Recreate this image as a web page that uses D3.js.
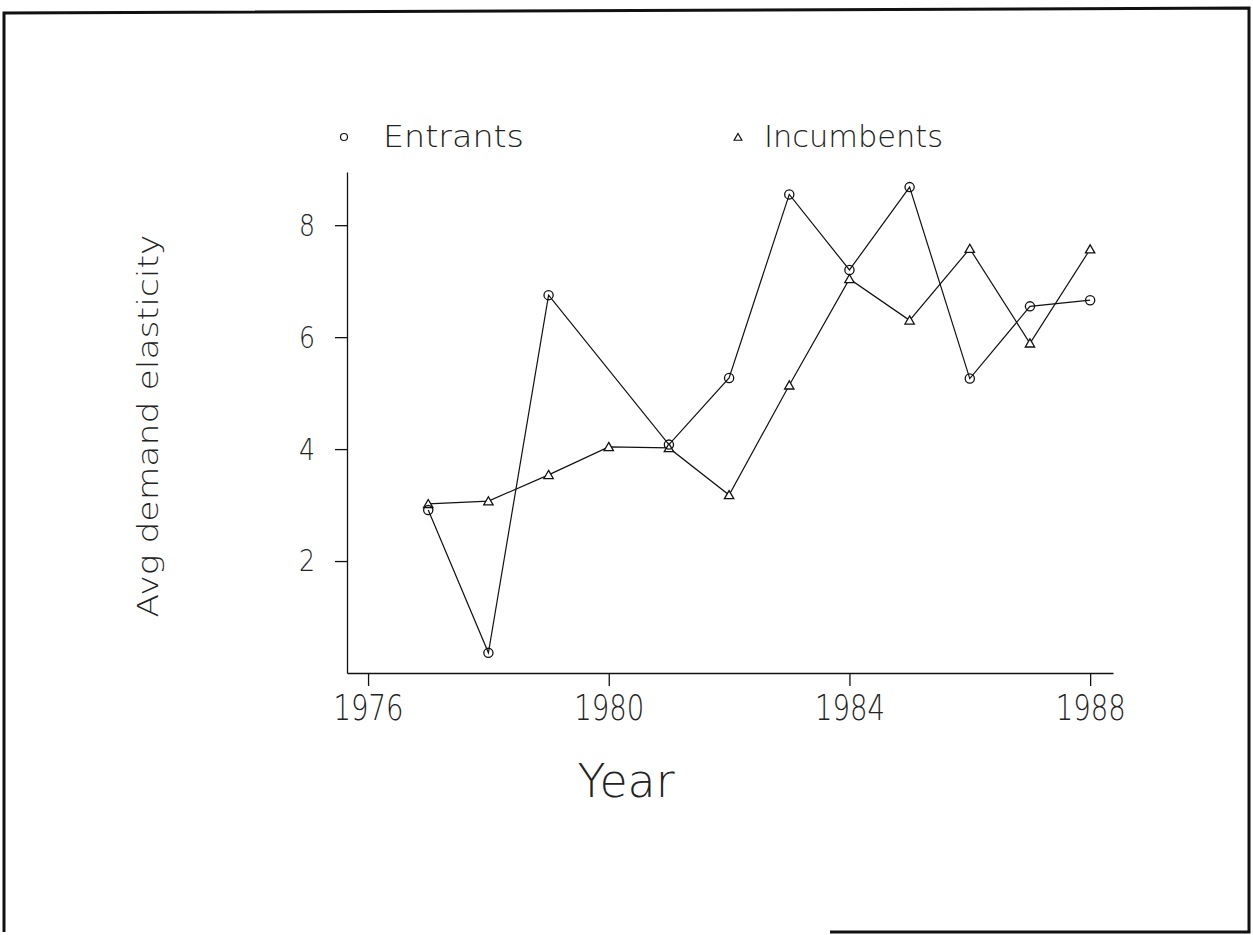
<!DOCTYPE html>
<html>
<head>
<meta charset="utf-8">
<script src="https://cdn.jsdelivr.net/npm/d3@7"></script>
<style>
  body { margin: 0; background: #fff; }
  text { font-family: "DejaVu Sans", "Liberation Sans", sans-serif; font-weight: 200; fill: #222; }
</style>
</head>
<body>
<div id="chart"></div>
<script>
// data
const years = [1977, 1978, 1979, 1980, 1981, 1982, 1983, 1984, 1985, 1986, 1987, 1988];
const entrants = [2.91, 0.36, 6.75, null, 4.08, 5.27, 8.55, 7.2, 8.68, 5.26, 6.55, 6.66];
const incumbents = [3.02, 3.07, 3.54, 4.04, 4.02, 3.18, 5.14, 7.04, 6.3, 7.58, 5.89, 7.57];
const xTicks = [1976, 1980, 1984, 1988];
const yTicks = [2, 4, 6, 8];

const W = 1253, H = 935;
const svg = d3.select('#chart').append('svg')
  .attr('width', W)
  .attr('height', H);

// scanned page frame (bottom edge only partly printed)
svg.append('path')
  .attr('d', 'M830,932 L1249,932 L1249,8 L4,13 L4,932')
  .attr('fill', 'none')
  .attr('stroke', '#111')
  .attr('stroke-width', 3);

const x = d3.scaleLinear().domain([1975.65, 1988.38]).range([347, 1113]);
const y = d3.scaleLinear().domain([0, 8.95]).range([673, 172]);

const xAxis = svg.append('g')
  .attr('transform', `translate(0,${y(0)})`)
  .call(d3.axisBottom(x).tickValues(xTicks).tickFormat(d3.format('d')).tickSize(13).tickSizeOuter(0).tickPadding(8));

const yAxis = svg.append('g')
  .attr('transform', `translate(${x(1975.65)},0)`)
  .call(d3.axisLeft(y).tickValues(yTicks).tickSize(12).tickSizeOuter(0).tickPadding(20));

[xAxis, yAxis].forEach(g => {
  g.selectAll('path, line').attr('stroke', '#111').attr('stroke-width', 1.3);
  g.selectAll('text')
    .style('font-family', '"DejaVu Sans", sans-serif')
    .style('font-weight', 200)
    .attr('fill', '#222');
});
xAxis.selectAll('text')
  .style('font-size', '36px')
  .attr('textLength', 70)
  .attr('lengthAdjust', 'spacingAndGlyphs');
yAxis.selectAll('text')
  .style('font-size', '31px')
  .attr('textLength', 16)
  .attr('lengthAdjust', 'spacingAndGlyphs');

// axis titles
svg.append('text')
  .attr('x', 626).attr('y', 797)
  .attr('text-anchor', 'middle')
  .attr('textLength', 97)
  .attr('lengthAdjust', 'spacingAndGlyphs')
  .style('font-size', '46px')
  .text('Year');

svg.append('text')
  .attr('transform', 'translate(158,426) rotate(-90)')
  .attr('text-anchor', 'middle')
  .attr('textLength', 383)
  .attr('lengthAdjust', 'spacingAndGlyphs')
  .style('font-size', '28px')
  .text('Avg demand elasticity');

// lines
const line = d3.line()
  .x(d => x(d[0]))
  .y(d => y(d[1]));

const entPts = years.map((yr, i) => [yr, entrants[i]]).filter(d => d[1] != null);
const incPts = years.map((yr, i) => [yr, incumbents[i]]);

svg.append('path').datum(entPts)
  .attr('fill', 'none').attr('stroke', '#111').attr('stroke-width', 1.2)
  .attr('d', line);
svg.append('path').datum(incPts)
  .attr('fill', 'none').attr('stroke', '#111').attr('stroke-width', 1.2)
  .attr('d', line);

const tri = d3.symbol().type(d3.symbolTriangle).size(38);

svg.selectAll('.inc').data(incPts).enter().append('path')
  .attr('class', 'inc')
  .attr('d', tri)
  .attr('transform', d => `translate(${x(d[0])},${y(d[1]) + 1})`)
  .attr('fill', '#fff').attr('stroke', '#111').attr('stroke-width', 1.3);

svg.selectAll('.ent').data(entPts).enter().append('circle')
  .attr('class', 'ent')
  .attr('cx', d => x(d[0]))
  .attr('cy', d => y(d[1]))
  .attr('r', 4.6)
  .attr('fill', 'none').attr('stroke', '#111').attr('stroke-width', 1.3);

// legend
svg.append('circle')
  .attr('cx', 344).attr('cy', 137).attr('r', 3.5)
  .attr('fill', 'none').attr('stroke', '#111').attr('stroke-width', 1.2);
svg.append('text')
  .attr('x', 383).attr('y', 147)
  .attr('textLength', 141)
  .attr('lengthAdjust', 'spacingAndGlyphs')
  .style('font-size', '30px')
  .text('Entrants');

svg.append('path')
  .attr('d', d3.symbol().type(d3.symbolTriangle).size(26))
  .attr('transform', 'translate(738,138)')
  .attr('fill', 'none').attr('stroke', '#111').attr('stroke-width', 1.2);
svg.append('text')
  .attr('x', 764).attr('y', 147)
  .attr('textLength', 179)
  .attr('lengthAdjust', 'spacingAndGlyphs')
  .style('font-size', '30px')
  .text('Incumbents');
</script>
</body>
</html>
